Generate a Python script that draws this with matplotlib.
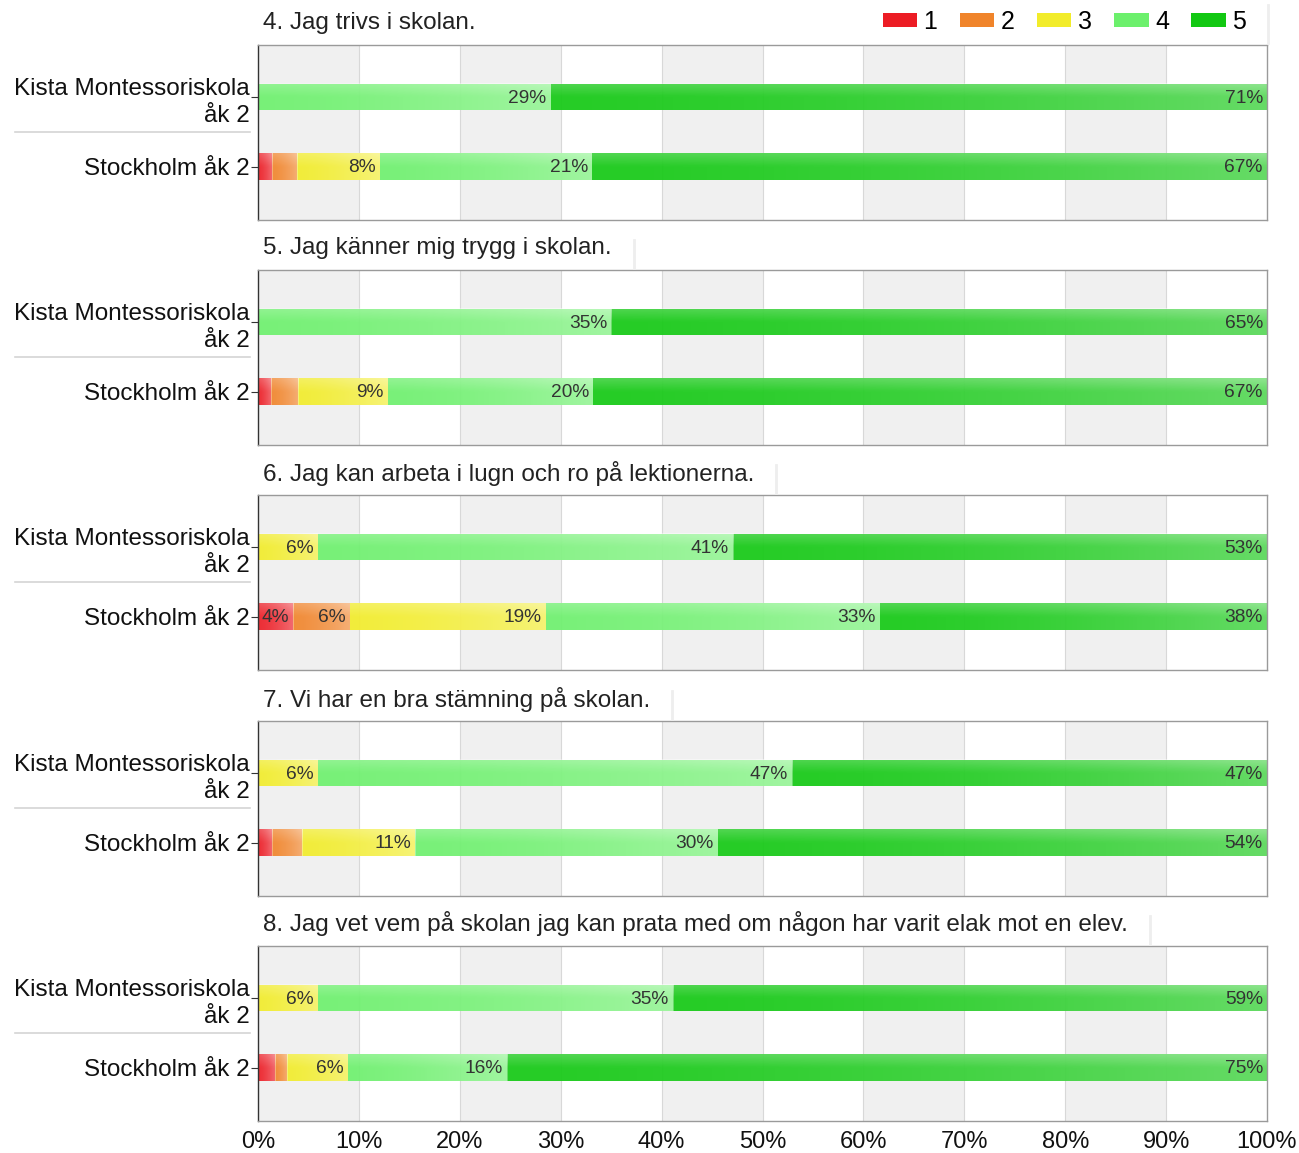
import matplotlib
matplotlib.use("Agg")
import matplotlib.pyplot as plt
import matplotlib.transforms as mtransforms
from matplotlib.patches import Patch
from matplotlib.lines import Line2D
import numpy as np

plt.rcParams['font.family'] = ['Liberation Sans', 'DejaVu Sans']

categories = ["Kista Montessoriskola\nåk 2", "Stockholm åk 2"]
legend_labels = ["1", "2", "3", "4", "5"]
colors = ["#ec1c24", "#f0842a", "#f2ec2a", "#6cf06c", "#12c812"]

titles = [
    "4. Jag trivs i skolan.",
    "5. Jag känner mig trygg i skolan.",
    "6. Jag kan arbeta i lugn och ro på lektionerna.",
    "7. Vi har en bra stämning på skolan.",
    "8. Jag vet vem på skolan jag kan prata med om någon har varit elak mot en elev.",
]

q4_kista = [0, 0, 0, 29.0, 71.0]
q4_sthlm = [1.4, 2.5, 8.2, 21.0, 66.9]
q5_kista = [0, 0, 0, 35.0, 65.0]
q5_sthlm = [1.3, 2.7, 8.9, 20.3, 66.8]
q6_kista = [0, 0, 5.9, 41.2, 52.9]
q6_sthlm = [3.5, 5.6, 19.4, 33.1, 38.4]
q7_kista = [0, 0, 5.9, 47.0, 47.1]
q7_sthlm = [1.4, 3.0, 11.2, 30.0, 54.4]
q8_kista = [0, 0, 5.9, 35.2, 58.9]
q8_sthlm = [1.7, 1.2, 6.0, 15.8, 75.3]

data = [
    (q4_kista, q4_sthlm),
    (q5_kista, q5_sthlm),
    (q6_kista, q6_sthlm),
    (q7_kista, q7_sthlm),
    (q8_kista, q8_sthlm),
]

xticks = [0, 10, 20, 30, 40, 50, 60, 70, 80, 90, 100]
xticklabels = [f"{v}%" for v in xticks]

W, H = 1299, 1153
fig = plt.figure(figsize=(W / 100, H / 100), dpi=100)

left_px, right_px = 258, 1267
tops_px = [45, 270, 495, 721, 946]
panel_h = 175
bar_h = 0.38

# white gloss overlay: lighter to the right and at the top
gx = np.linspace(0, 1, 64)
gy = np.linspace(0, 1, 16)
GX, GY = np.meshgrid(gx, gy)
alpha_map = 0.04 + 0.28 * GX ** 1.5 + 0.18 * np.clip(0.5 - GY, 0, None) * 2
gloss = np.zeros((16, 64, 4))
gloss[..., :3] = 1.0
gloss[..., 3] = np.clip(alpha_map, 0, 0.5)

title_texts = []
for i, (top, title, (kista, sthlm)) in enumerate(zip(tops_px, titles, data)):
    ax = fig.add_axes([left_px / W, 1 - (top + panel_h) / H,
                       (right_px - left_px) / W, panel_h / H])
    for b in range(0, 100, 20):
        ax.axvspan(b, b + 10, color="#f0f0f0", zorder=0, lw=0)
    for g in xticks[1:-1]:
        ax.axvline(g, color="#d8d8d8", lw=0.8, zorder=0.5)
    ys = [0, 1]
    for y, vals in zip(ys, [kista, sthlm]):
        lefts = np.concatenate([[0], np.cumsum(vals)[:-1]])
        ax.barh([y] * 5, vals, left=lefts, height=bar_h, color=colors,
                edgecolor="none", zorder=2, alpha=0.95)
        for v, l in zip(vals, lefts):
            if v > 0:
                ax.imshow(gloss, extent=(l, l + v, y + bar_h / 2, y - bar_h / 2),
                          aspect="auto", zorder=2.5, interpolation="bilinear")
            if v >= 3.5:
                ax.annotate(f"{round(v)}%", xy=(l + v, y), xytext=(-3, -1),
                            textcoords="offset points", ha="right", va="center",
                            fontsize=13.8, color="#333333", zorder=3)
    ax.set_xlim(0, 100)
    ax.set_ylim(1.77, -0.75)
    ax.set_aspect("auto")
    ax.set_yticks(ys)
    ax.set_yticklabels(categories, fontsize=17.5, color="#111111")
    for lab in ax.get_yticklabels():
        lab.set_horizontalalignment("right")
        lab.set_multialignment("right")
        lab.set_linespacing(1.32)
    ax.tick_params(axis="y", length=5, width=0.8, color="#333333", pad=1)
    ax.set_xticks(xticks)
    if i == len(tops_px) - 1:
        ax.set_xticklabels(xticklabels, fontsize=17, color="#111111")
        ax.tick_params(axis="x", length=0, pad=7)
    else:
        ax.set_xticklabels([])
        ax.tick_params(axis="x", length=0)
    for s in ax.spines.values():
        s.set_color("#9a9a9a")
        s.set_linewidth(1.0)
    ax.spines["left"].set_color("#333333")
    trans = mtransforms.blended_transform_factory(fig.transFigure, ax.transData)
    ax.plot([15 / W, 250 / W], [0.5, 0.5], transform=trans, color="#d4d4d4",
            lw=1.2, clip_on=False)
    t = fig.text(263 / W, 1 - (top - 22) / H, title, fontsize=17.5,
                 color="#222222", ha="left", va="center")
    title_texts.append((t, top))

handles = [Patch(facecolor=c, edgecolor="none") for c in colors]
fig.legend(handles, legend_labels, loc="center right",
           bbox_to_anchor=(1246 / W, 1 - 22 / H), ncol=5, frameon=False,
           fontsize=18, handlelength=1.38, handleheight=0.5, handletextpad=0.25,
           columnspacing=0.9, borderaxespad=0, borderpad=0)

# faint shadow line at the right end of each title box
fig.canvas.draw()
renderer = fig.canvas.get_renderer()
for i, (t, top) in enumerate(title_texts):
    bb = t.get_window_extent(renderer)
    x_px = bb.x1 + 22 if i > 0 else 1268
    y_top = top - 30 if i > 0 else 5
    fig.add_artist(Line2D([x_px / W, x_px / W], [1 - y_top / H, 1 - (top - 2) / H],
                          transform=fig.transFigure, color="#eeeeee", lw=2))

fig.savefig("out.png", dpi=100)
